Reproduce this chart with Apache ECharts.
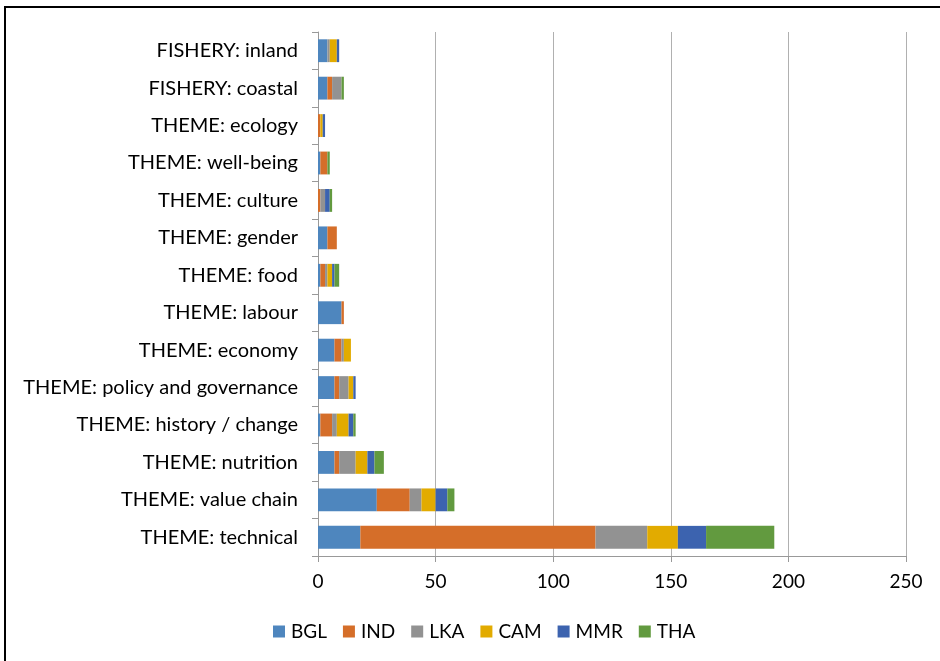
<!DOCTYPE html>
<html>
<head>
<meta charset="utf-8">
<script src="https://cdn.jsdelivr.net/npm/echarts@6/dist/echarts.min.js"></script>
<style>html,body{margin:0;padding:0;background:#fff}#c{width:940px;height:661px}</style>
</head>
<body>
<div id="c"></div>
<script>
// categories listed bottom to top (ECharts category y-axis order)
const categories = [
  "THEME: technical", "THEME: value chain", "THEME: nutrition", "THEME: history / change",
  "THEME: policy and governance", "THEME: economy", "THEME: labour", "THEME: food",
  "THEME: gender", "THEME: culture", "THEME: well-being", "THEME: ecology",
  "FISHERY: coastal", "FISHERY: inland"
];
const seriesNames = ["BGL", "IND", "LKA", "CAM", "MMR", "THA"];
const BGL = [18, 25, 7, 1, 7, 7, 10, 1, 4, 0, 1, 0, 4, 4];
const IND = [100, 14, 2, 5, 2, 3, 1, 2, 4, 1, 3, 1, 2, 0];
const LKA = [22, 5, 7, 2, 4, 1, 0, 1, 0, 2, 0, 0, 4, 1];
const CAM = [13, 6, 5, 5, 2, 3, 0, 2, 0, 0, 0, 1, 0, 3];
const MMR = [12, 5, 3, 2, 1, 0, 0, 1, 0, 2, 0, 1, 0, 1];
const THA = [29, 3, 4, 1, 0, 0, 0, 2, 0, 1, 1, 0, 1, 0];
const xTicks = [0, 50, 100, 150, 200, 250];

const values = [BGL, IND, LKA, CAM, MMR, THA];
const colors = ["#4E86BE", "#D56E29", "#929292", "#E2AB00", "#3C63AF", "#629A3F"];
const font = "Lato, 'Liberation Sans', sans-serif";

const chart = echarts.init(document.getElementById('c'), null, {renderer: 'canvas'});
chart.setOption({
  animation: false,
  color: colors,
  textStyle: {fontFamily: font},
  grid: {left: 318, right: 34, top: 32, bottom: 105, containLabel: false},
  xAxis: {
    type: 'value', min: xTicks[0], max: xTicks[xTicks.length - 1], interval: 50,
    axisLine: {show: true, lineStyle: {color: '#999', width: 1}},
    axisTick: {show: true, length: 6, lineStyle: {color: '#999'}},
    splitLine: {show: true, lineStyle: {color: '#b0b0b0', width: 1}},
    axisLabel: {color: '#000', fontSize: 19, margin: 16, fontFamily: font}
  },
  yAxis: {
    type: 'category', data: categories,
    axisLine: {show: true, lineStyle: {color: '#999', width: 1}},
    axisTick: {show: true, length: 6, lineStyle: {color: '#999'}},
    axisLabel: {color: '#000', fontSize: 20, margin: 20, fontFamily: font}
  },
  legend: {
    data: seriesNames, bottom: 15, left: 268,
    itemWidth: 12, itemHeight: 12, itemGap: 16, icon: 'rect',
    textStyle: {color: '#000', fontSize: 19, fontFamily: font, padding: [0, 0, 0, 1]}
  },
  series: seriesNames.map((n, i) => ({
    name: n, type: 'bar', stack: 'total', data: values[i],
    barCategoryGap: '39%',
    itemStyle: {color: colors[i]}
  })),
  graphic: [
    {type: 'line', shape: {x1: 4, y1: 7, x2: 940, y2: 7}, style: {stroke: '#000', lineWidth: 2}, silent: true},
    {type: 'line', shape: {x1: 5, y1: 6, x2: 5, y2: 661}, style: {stroke: '#000', lineWidth: 2}, silent: true}
  ]
});
</script>
</body>
</html>
